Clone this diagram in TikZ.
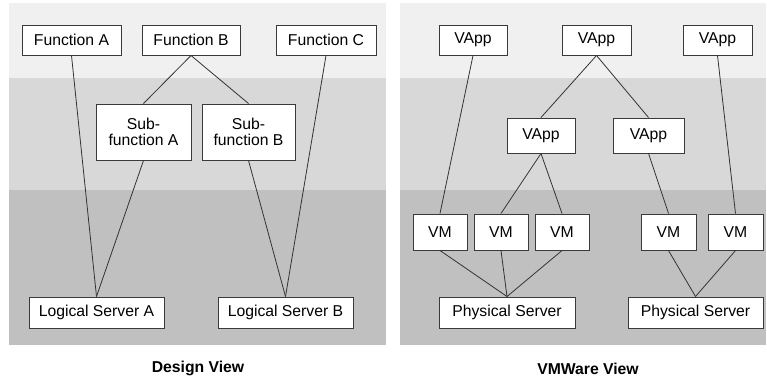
\documentclass[tikz,border=0pt]{standalone}
\usepackage{fontspec}
\setmainfont{Liberation Sans}
\definecolor{bandtop}{HTML}{F0F0F0}
\definecolor{bandmid}{HTML}{D8D8D8}
\definecolor{bandlow}{HTML}{C0C0C0}
\definecolor{edgegray}{HTML}{3A3A3A}
\begin{document}
\begin{tikzpicture}[x=0.75pt,y=-0.75pt,
  box/.style={draw=edgegray,line width=0.75pt,fill=white,inner sep=0pt,
    font=\fontsize{11.8}{12.2}\selectfont,align=center},
  sz/.style 2 args={minimum width=#1*0.75pt,minimum height=#2*0.75pt},
  link/.style={draw=black!80,line width=0.6pt},
  caption/.style={font=\fontsize{11.8}{13}\selectfont\bfseries}]
\useasboundingbox (0,0) rectangle (767,380);
% background bands of both panels
\foreach \xa/\xb in {9/386,400/766}{
  \fill[bandtop] (\xa,3) rectangle (\xb,77.5);
  \fill[bandmid] (\xa,77.5) rectangle (\xb,189.5);
  \fill[bandlow] (\xa,189.5) rectangle (\xb,345);
}
% design view
\node[box,sz={99}{30}] (fa) at (71.5,40) {Function A};
\node[box,sz={98}{30}] (fb) at (191,40) {Function B};
\node[box,sz={100}{30}] (fc) at (326,40) {Function C};
\node[box,sz={95}{56}] (sa) at (143.5,132) {Sub-\\function A};
\node[box,sz={93}{56}] (sb) at (248.5,132) {Sub-\\function B};
\node[box,sz={135}{31}] (la) at (96.5,312.5) {Logical Server A};
\node[box,sz={135}{31}] (lb) at (285.5,312.5) {Logical Server B};
\draw[link] (fa.south) -- (la.north);
\draw[link] (fb.south) -- (sa.north);
\draw[link] (fb.south) -- (sb.north);
\draw[link] (fc.south) -- (lb.north);
\draw[link] (sa.south) -- (la.north);
\draw[link] (sb.south) -- (lb.north);
\node[caption] (dv) at (198,368) {Design View};
% vmware view
\node[box,sz={68}{30}] (v1) at (473,40) {VApp};
\node[box,sz={69}{30}] (v2) at (596.5,40) {VApp};
\node[box,sz={69}{30}] (v3) at (717.5,40) {VApp};
\node[box,sz={68}{35}] (v4) at (541,135.5) {VApp};
\node[box,sz={71}{35}] (v5) at (648.5,135.5) {VApp};
\node[box,sz={54}{36}] (m1) at (440,232) {VM};
\node[box,sz={54}{36}] (m2) at (501,232) {VM};
\node[box,sz={54}{36}] (m3) at (562,232) {VM};
\node[box,sz={55}{36}] (m4) at (668.5,232) {VM};
\node[box,sz={55}{36}] (m5) at (735.5,232) {VM};
\node[box,sz={136}{31}] (p1) at (507,312.5) {Physical Server};
\node[box,sz={135}{31}] (p2) at (695.5,312.5) {Physical Server};
\draw[link] (v1.south) -- (m1.north);
\draw[link] (v2.south) -- (v4.north);
\draw[link] (v2.south) -- (v5.north);
\draw[link] (v3.south) -- (m5.north);
\draw[link] (v4.south) -- (m2.north);
\draw[link] (v4.south) -- (m3.north);
\draw[link] (v5.south) -- (m4.north);
\draw[link] (m1.south) -- (p1.north);
\draw[link] (m2.south) -- (p1.north);
\draw[link] (m3.south) -- (p1.north);
\draw[link] (m4.south) -- (p2.north);
\draw[link] (m5.south) -- (p2.north);
\node[caption] (vv) at (588,369) {VMWare View};
\end{tikzpicture}
\end{document}
